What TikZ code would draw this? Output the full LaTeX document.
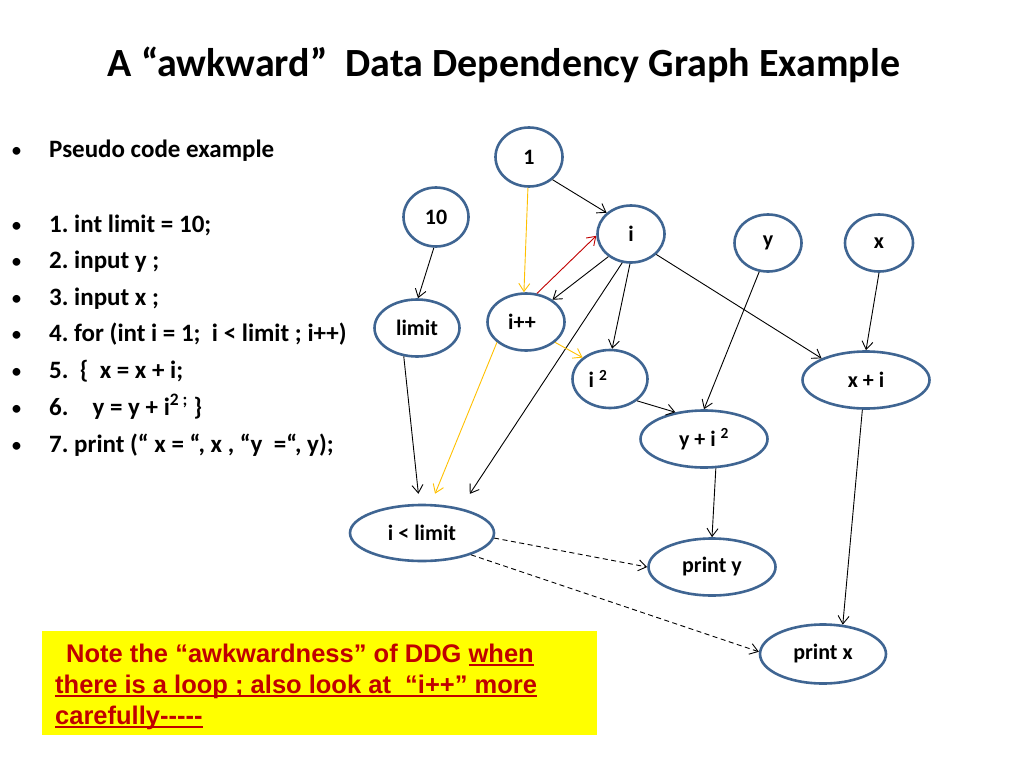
\documentclass[tikz,border=0pt]{standalone}
\usepackage{fontspec}
\setmainfont{Carlito}
\newfontfamily\arialfont{Liberation Sans}
\usetikzlibrary{arrows.meta,shapes.geometric}
\definecolor{ellblue}{HTML}{3F6592}
\definecolor{notered}{HTML}{C00000}
\definecolor{loopyel}{HTML}{FFC000}
\definecolor{noteyel}{HTML}{FFFF00}
\newcommand\myul[1]{\setbox0\hbox{#1}\leavevmode\rlap{\copy0}\rule[-3.5pt]{\wd0}{1.8pt}}
\frenchspacing
\begin{document}
\begin{tikzpicture}[x=1pt,y=-1pt,
  ell/.style={ellipse, draw=ellblue, line width=2.6pt, fill=white, inner sep=0pt,
    font=\fontsize{22}{26}\selectfont\bfseries},
  dep/.style={-{Straight Barb[length=8pt,width=11pt]}, line width=0.9pt, draw=black},
  yel/.style={dep, draw=loopyel},
  redar/.style={dep, draw=notered},
  dsh/.style={dep, dash pattern=on 5pt off 3.5pt},
  code/.style={anchor=base west, inner sep=0pt, font=\fontsize{25}{30}\selectfont\bfseries},
  bul/.style={anchor=base west, inner sep=0pt, font=\fontsize{22}{26}\selectfont},
  notetxt/.style={anchor=base west, inner sep=0pt, text=notered,
    font=\arialfont\fontsize{25.5}{30}\selectfont\bfseries}
]
\useasboundingbox (0,0) rectangle (1024,768);

% title
\node[inner sep=0pt, anchor=base, font=\fontsize{40}{46}\selectfont\bfseries] (title)
  at (504,77) {A “awkward”\ \ Data Dependency Graph Example};

% code list
\node[bul] (b0) at (11,157) {•};
\node[code] (c0) at (49,157) {Pseudo code example};
\node[bul] (b1) at (11,232) {•};
\node[code] (c1) at (49,232) {1. int limit = 10;};
\node[bul] (b2) at (11,268) {•};
\node[code] (c2) at (49,268) {2. input y ;};
\node[bul] (b3) at (11,305) {•};
\node[code] (c3) at (49,305) {3. input x ;};
\node[bul] (b4) at (11,341) {•};
\node[code] (c4) at (49,341) {4. for (int i = 1;\ \ i < limit ; i++)};
\node[bul] (b5) at (11,378) {•};
\node[code] (c5) at (49,378) {5.\ \ \{\ \ x = x + i;};
\node[bul] (b6) at (11,415) {•};
\node[code] (c6) at (49,415) {6.\hspace{24pt}y = y + i\textsuperscript{2 ;} \}};
\node[bul] (b7) at (11,452) {•};
\node[code] (c7) at (49,452) {7. print (“ x = “, x , “y\ \ =“, y);};

% graph nodes
\node[ell, minimum width=67pt, minimum height=59pt] (n1) at (529,157) {1};
\node[ell, minimum width=65pt, minimum height=59pt] (n10) at (436,217) {10};
\node[ell, minimum width=67pt, minimum height=57pt] (ni) at (631,234) {i};
\node[ell, minimum width=85pt, minimum height=57pt] (nlimit) at (417,328) {limit};
\node[ell, minimum width=77pt, minimum height=57pt] (nipp) at (526,322) {i++\hspace*{8pt}};
\node[ell, minimum width=75pt, minimum height=58pt] (nisq) at (610,379) {i \textsuperscript{2}\hspace*{24pt}};
\node[ell, minimum width=67pt, minimum height=57pt] (ny) at (768,243) {y};
\node[ell, minimum width=68pt, minimum height=57pt] (nx) at (879,243) {x};
\node[ell, minimum width=127pt, minimum height=57pt] (nyi) at (704,439) {y + i \textsuperscript{2}};
\node[ell, minimum width=127pt, minimum height=57pt] (nxi) at (866,380) {x + i};
\node[ell, minimum width=144pt, minimum height=56pt] (nlt) at (422,533) {i < limit};
\node[ell, minimum width=127pt, minimum height=57pt] (npy) at (712,567) {print y};
\node[ell, minimum width=126pt, minimum height=59pt] (npx) at (823,654) {print x};

% edges
\draw[dep] (n1.-44) -- (ni.139);
\draw[yel] (n1.-92) -- (nipp.94);
\draw[dep] (n10.-94) -- (nlimit.88);
\draw[redar] (nipp.69) -- (ni.183);
\draw[dep] (ni.-135) -- (nipp.40);
\draw[dep, shorten >=17pt] (ni.-107) -- (nlt.33);
\draw[dep] (ni.-92) -- (nisq.86);
\draw[dep] (ni.-39) -- (nxi.154);
\draw[yel] (nipp.-35) -- (nisq.142);
\draw[yel, shorten >=11pt] (nipp.-145) -- (nlt.73);
\draw[dep, shorten >=10pt] (nlimit.-115) -- (nlt.95);
\draw[dep] (ny.-107) -- (nyi.90);
\draw[dep] (nx.-90) -- (nxi.90);
\draw[dep] (nisq.-39) -- (nyi.137);
\draw[dep] (nyi.-68) -- (npy.90);
\draw[dep] (nxi.-97) -- (npx.56);
\draw[dsh] (nlt.-4) -- (npy.180);
\draw[dsh] (nlt.-24) -- (npx.178);

% note box
\node[fill=noteyel, draw=none, minimum width=555pt, minimum height=104pt, inner sep=0pt, anchor=north west] (notebox) at (42,631) {};
\node[notetxt] (note1) at (66,662) {Note the “awkwardness” of DDG \myul{when}};
\node[notetxt] (note2) at (55,693) {\myul{there is a loop ; also look at\ \ “i++” more}};
\node[notetxt] (note3) at (55,724) {\myul{carefully-----}};
\end{tikzpicture}
\end{document}
